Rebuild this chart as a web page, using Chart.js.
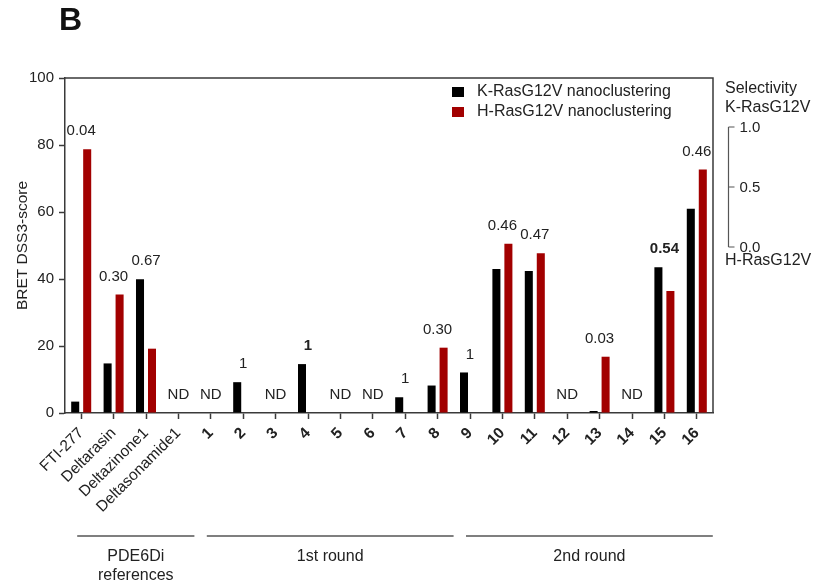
<!DOCTYPE html>
<html>
<head>
<meta charset="utf-8">
<script src="https://cdn.jsdelivr.net/npm/chart.js@4.4.1/dist/chart.umd.min.js"></script>
<style>
  html, body { margin: 0; padding: 0; background: #fff; }
  #wrap { width: 814px; height: 587px; }
</style>
</head>
<body>
<div id="wrap"><canvas id="chart" width="814" height="587"></canvas></div>
<script>
const categories = ['FTI-277', 'Deltarasin', 'Deltazinone1', 'Deltasonamide1',
  '1', '2', '3', '4', '5', '6', '7', '8', '9', '10', '11', '12', '13', '14', '15', '16'];
const kRas = [3.4, 14.8, 39.9, null, null, 9.2, null, 14.6, null, null, 4.7, 8.2, 12.1, 43.0, 42.4, null, 0.6, null, 43.5, 61.0];
const hRas = [78.7, 35.4, 19.2, null, null, null, null, null, null, null, null, 19.5, null, 50.5, 47.7, null, 16.8, null, 36.4, 72.7];
const selectivity = ['0.04', '0.30', '0.67', 'ND', 'ND', '1', 'ND', '1', 'ND', 'ND', '1', '0.30', '1', '0.46', '0.47', 'ND', '0.03', 'ND', '0.54', '0.46'];
const boldSelectivity = [7, 18];
const groupNames = [['PDE6Di', 'references'], ['1st round'], ['2nd round']];
const groupFirst = [0, 4, 12];
const groupLast = [3, 11, 19];
const selTicks = [0, 0.5, 1.0];

const FONT = "'Liberation Sans', Arial, Helvetica, sans-serif";
const INK = '#222';
const AXIS = '#3a3a3a';

// extra drawing: frame, labels over bars, legend, selectivity axis, groups
const extras = {
  id: 'extras',
  afterDatasetsDraw(chart) {
    const { ctx, chartArea: a, scales: { x, y } } = chart;
    ctx.save();
    ctx.strokeStyle = AXIS;
    ctx.lineWidth = 1.5;
    ctx.beginPath();
    ctx.moveTo(a.left, a.top);
    ctx.lineTo(a.right, a.top);
    ctx.lineTo(a.right, a.bottom);
    ctx.stroke();

    // selectivity values above bars
    ctx.fillStyle = INK;
    ctx.textAlign = 'center';
    ctx.textBaseline = 'middle';
    selectivity.forEach((txt, i) => {
      const v = Math.max(kRas[i] || 0, hRas[i] || 0);
      ctx.font = (boldSelectivity.includes(i) ? 'bold ' : '') + '15px ' + FONT;
      ctx.fillText(txt, x.getPixelForValue(i), y.getPixelForValue(v) - 18);
    });

    // legend
    chart.data.datasets.forEach((ds, i) => {
      const ly = 87 + i * 20;
      ctx.fillStyle = ds.backgroundColor;
      ctx.fillRect(452, ly, 12, 10);
      ctx.fillStyle = INK;
      ctx.textAlign = 'left';
      ctx.font = '16px ' + FONT;
      ctx.fillText(ds.label, 477, ly + 5);
    });
    ctx.restore();
  },
  afterDraw(chart) {
    const { ctx, scales: { x } } = chart;
    ctx.save();
    // panel letter
    ctx.fillStyle = '#111';
    ctx.font = 'bold 32px ' + FONT;
    ctx.textBaseline = 'alphabetic';
    ctx.textAlign = 'left';
    ctx.fillText('B', 59, 30);

    // selectivity axis
    const sx = 728.5, sTop = 127, sBot = 247;
    const sy = v => sBot - (sBot - sTop) * v;
    ctx.strokeStyle = '#555';
    ctx.lineWidth = 1.2;
    ctx.beginPath();
    ctx.moveTo(sx, sy(0));
    ctx.lineTo(sx, sy(1));
    selTicks.forEach(t => { ctx.moveTo(sx, sy(t)); ctx.lineTo(sx + 6, sy(t)); });
    ctx.stroke();
    ctx.fillStyle = INK;
    ctx.font = '15px ' + FONT;
    ctx.textBaseline = 'middle';
    selTicks.forEach(t => ctx.fillText(t.toFixed(1), sx + 11, sy(t) + 1));
    ctx.font = '16px ' + FONT;
    ctx.fillText('Selectivity', 725, 89);
    ctx.fillText('K-RasG12V', 725, 108);
    ctx.fillText('H-RasG12V', 725, 261);

    // category groups
    ctx.strokeStyle = '#555';
    ctx.lineWidth = 1.5;
    ctx.textAlign = 'center';
    groupNames.forEach((lines, g) => {
      const x0 = x.getPixelForValue(groupFirst[g]) - 4;
      const x1 = x.getPixelForValue(groupLast[g]) + 16;
      ctx.beginPath();
      ctx.moveTo(x0, 536);
      ctx.lineTo(x1, 536);
      ctx.stroke();
      lines.forEach((t, k) => ctx.fillText(t, (x0 + x1) / 2, 557 + k * 19));
    });
    ctx.restore();
  }
};

new Chart(document.getElementById('chart'), {
  type: 'bar',
  data: {
    labels: categories,
    datasets: [
      { label: 'K-RasG12V nanoclustering', data: kRas, backgroundColor: '#000000' },
      { label: 'H-RasG12V nanoclustering', data: hRas, backgroundColor: '#a20000' }
    ]
  },
  options: {
    responsive: false,
    animation: false,
    devicePixelRatio: 1,
    layout: { padding: { top: 78, right: 101, bottom: 0, left: 0 } },
    datasets: { bar: { categoryPercentage: 0.74, barPercentage: 0.67 } },
    plugins: { legend: { display: false }, tooltip: { enabled: false } },
    scales: {
      x: {
        afterFit: s => { s.height = 174; },
        border: { color: AXIS, width: 1.5 },
        grid: { offset: false, drawOnChartArea: false, tickLength: 6, color: AXIS, tickWidth: 1.5 },
        ticks: {
          autoSkip: false, minRotation: 45, maxRotation: 45, padding: 5, color: INK,
          font: c => ({ family: FONT, size: 15.5, weight: c.index >= 4 ? 'bold' : 'normal' })
        }
      },
      y: {
        min: 0, max: 100,
        afterFit: s => { s.width = 65; },
        border: { color: AXIS, width: 1.5 },
        grid: { drawOnChartArea: false, tickLength: 6, color: AXIS, tickWidth: 1.5 },
        ticks: { stepSize: 20, padding: 5, color: INK, font: { family: FONT, size: 15 } },
        title: { display: true, text: 'BRET DSS3-score', color: INK, padding: { top: 13, bottom: 0 },
          font: { family: FONT, size: 15.5 } }
      }
    }
  },
  plugins: [extras]
});
</script>
</body>
</html>
